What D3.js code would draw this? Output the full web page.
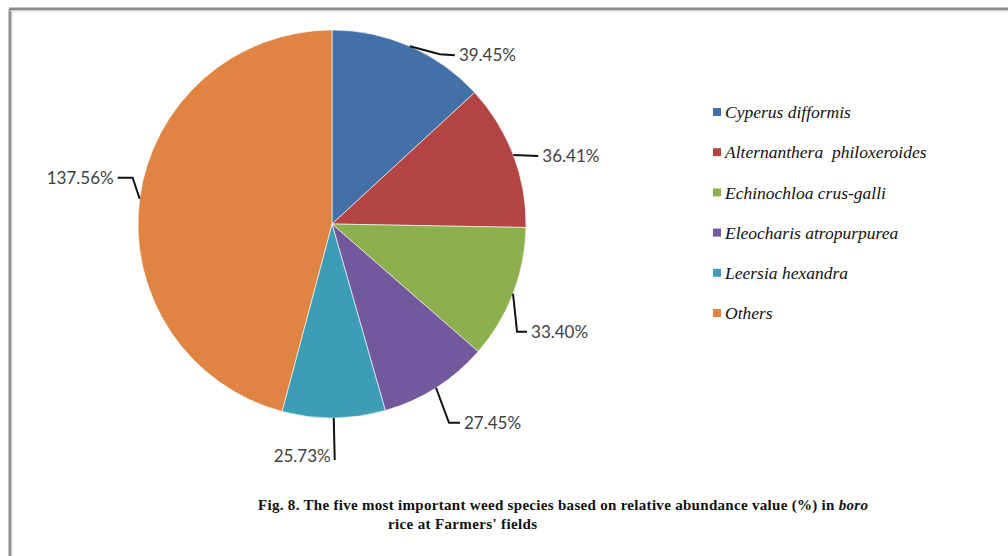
<!DOCTYPE html>
<html>
<head>
<meta charset="utf-8">
<script src="https://cdn.jsdelivr.net/npm/d3@7/dist/d3.min.js"></script>
<style>
  html, body { margin: 0; padding: 0; background: #fff; }
  svg { display: block; }
</style>
</head>
<body>
<svg id="chart" width="1008" height="556"></svg>
<script>
// Relative abundance values of weed species (boro rice, farmers' fields)
const species = [
  "Cyperus difformis",
  "Alternanthera  philoxeroides",
  "Echinochloa crus-galli",
  "Eleocharis atropurpurea",
  "Leersia hexandra",
  "Others"
];
const values = [39.45, 36.41, 33.40, 27.45, 25.73, 137.56];
const colors = ["#4470A8", "#B24543", "#8DB04E", "#74589D", "#3D9DB5", "#DF8443"];

// Leader-line layout for each value label: elbow and end offsets from the slice edge
const leaderElbow = [[30, 8], [25, 1], [4, 38], [13, 35], [1, 42], [-7, -21]];
const leaderEnd   = [[45, 9], [25, 1], [14, 38], [24, 35], [1, 42], [-22, -21]];
const labelSide   = ["start", "start", "start", "start", "end", "end"];

const svg = d3.select("#chart");

// Outer frame (top and left edges visible)
svg.append("line").attr("x1", 9).attr("y1", 9).attr("x2", 1008).attr("y2", 9)
  .attr("stroke", "#8c8c8c").attr("stroke-width", 3);
svg.append("line").attr("x1", 10).attr("y1", 9).attr("x2", 10).attr("y2", 556)
  .attr("stroke", "#8c8c8c").attr("stroke-width", 3);
svg.append("line").attr("x1", 9).attr("y1", 11).attr("x2", 1008).attr("y2", 11)
  .attr("stroke", "#d8d8d8").attr("stroke-width", 1);
svg.append("line").attr("x1", 12).attr("y1", 11).attr("x2", 12).attr("y2", 556)
  .attr("stroke", "#d8d8d8").attr("stroke-width", 1);

const cx = 332, cy = 224, R = 194;

const pie = d3.pie().sort(null).value(d => d);
const arcs = pie(values);
const arc = d3.arc().innerRadius(0).outerRadius(R);

const g = svg.append("g").attr("transform", `translate(${cx},${cy})`);

g.selectAll("path.slice")
  .data(arcs)
  .enter().append("path")
  .attr("class", "slice")
  .attr("d", arc)
  .attr("fill", (d, i) => colors[i])
  .attr("stroke", "#ffffff")
  .attr("stroke-width", 0.6);

// Leader lines and value labels
arcs.forEach((d, i) => {
  const a = (d.startAngle + d.endAngle) / 2;
  const ex = R * Math.sin(a), ey = -R * Math.cos(a);
  const bx = ex + leaderElbow[i][0], by = ey + leaderElbow[i][1];
  const tx = ex + leaderEnd[i][0], ty = ey + leaderEnd[i][1];
  g.append("path")
    .attr("d", d3.line()([[ex, ey], [bx, by], [tx, ty]]))
    .attr("fill", "none")
    .attr("stroke", "#111")
    .attr("stroke-width", 2);
  const isStart = labelSide[i] === "start";
  const vertical = Math.abs(leaderEnd[i][0]) < 3;
  g.append("text")
    .attr("x", tx + (isStart ? 4 : -4))
    .attr("y", ty + (vertical ? -4 : 0))
    .attr("dy", "0.35em")
    .attr("text-anchor", labelSide[i])
    .attr("font-family", "Lato, 'Open Sans', sans-serif")
    .attr("font-size", 17)
    .attr("fill", "#404040")
    .text(d3.format(".2f")(values[i]) + "%");
});

// Legend
const legendY = d3.scalePoint().domain(species).range([112, 313]);
const legend = svg.append("g");
species.forEach((s, i) => {
  const y = legendY(s);
  legend.append("rect")
    .attr("x", 713).attr("y", y - 4).attr("width", 8).attr("height", 8)
    .attr("fill", colors[i]);
  legend.append("text")
    .attr("x", 725).attr("y", y).attr("dy", "0.35em")
    .attr("font-family", "'Liberation Serif', 'Times New Roman', serif")
    .attr("font-style", "italic")
    .attr("font-size", 17.5)
    .attr("fill", "#111")
    .style("white-space", "pre")
    .text(s);
});

// Caption
const cap1 = svg.append("text")
  .attr("x", 258).attr("y", 510)
  .attr("font-family", "'Liberation Serif', 'Times New Roman', serif")
  .attr("font-weight", "bold")
  .attr("font-size", 15)
  .attr("fill", "#111")
  .attr("textLength", 610)
  .attr("lengthAdjust", "spacing");
cap1.append("tspan").text("Fig. 8. The five most important weed species based on relative abundance value (%) in ");
cap1.append("tspan").attr("font-style", "italic").text("boro");

svg.append("text")
  .attr("x", 388).attr("y", 529)
  .attr("font-family", "'Liberation Serif', 'Times New Roman', serif")
  .attr("font-weight", "bold")
  .attr("font-size", 15)
  .attr("fill", "#111")
  .attr("textLength", 149)
  .attr("lengthAdjust", "spacing")
  .text("rice at Farmers' fields");
</script>
</body>
</html>
